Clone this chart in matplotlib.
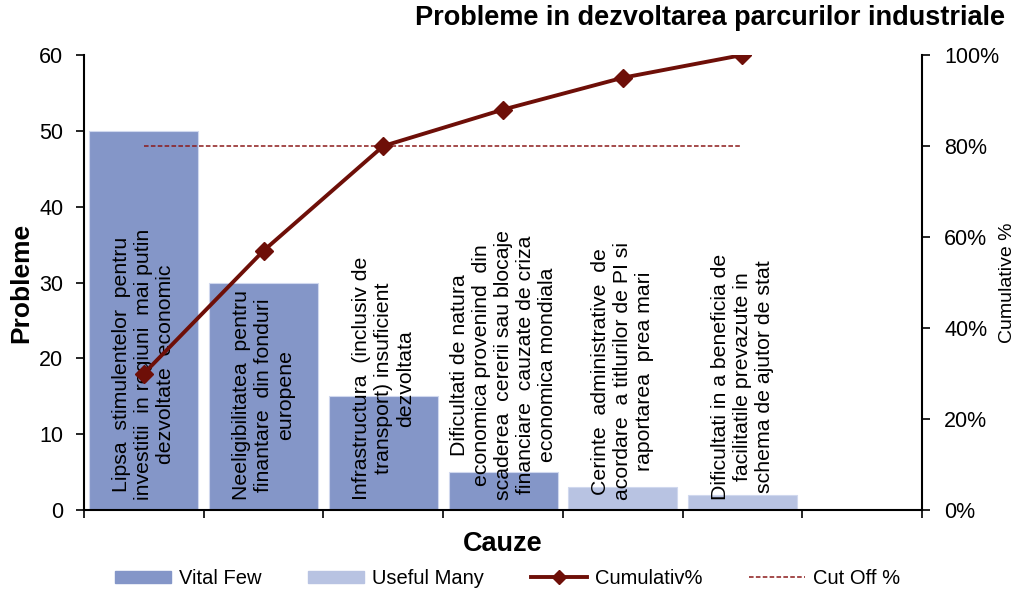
import numpy as np
import matplotlib
matplotlib.use('Agg')
import matplotlib.pyplot as plt
from matplotlib.patches import Patch
from matplotlib.lines import Line2D

plt.rcParams['font.family'] = ['Liberation Sans', 'DejaVu Sans']

# %% Date

cauze = ['Lipsa  stimulentelor  pentru\ninvestitii  in regiuni  mai putin\ndezvoltate  economic',
         'Neeligibilitatea  pentru\nfinantare  din fonduri\neuropene',
         'Infrastructura  (inclusiv de\ntransport) insuficient\ndezvoltata',
         'Dificultati de natura\neconomica provenind  din\nscaderea  cererii sau blocaje\nfinanciare  cauzate de criza\neconomica mondiala',
         'Cerinte  administrative  de\nacordare  a titlurilor de PI si\nraportarea  prea mari',
         'Dificultati in a beneficia de\nfacilitatile prevazute in\nschema de ajutor de stat']
probleme = [50, 30, 15, 5, 3, 2]
vital_few = [True, True, True, True, False, False]
cumulativ = [0.30, 0.57, 0.80, 0.88, 0.95, 1.00]
cut_off = 0.80

col_vital = '#8496c8'
col_useful = '#b8c3e2'
col_line = '#6e0f08'
col_cut = '#8b1a1a'

# %% Figura

fig = plt.figure(figsize=(10.15, 5.92), dpi=100)
ax = fig.add_axes([0.0828, 0.1385, 0.8256, 0.7686])

x = np.arange(len(probleme))
colors = [col_vital if v else col_useful for v in vital_few]
ax.bar(x, probleme, width=0.91, color=colors, edgecolor='#d0d8ee', linewidth=0.8, zorder=1)

for xi, txt in zip(x, cauze):
    ax.text(xi, 1.3, txt, rotation=90, ha='center', va='bottom', multialignment='center',
            fontsize=15.3, linespacing=1.2, zorder=3)

ax.set_xlim(-0.5, 6.5)
ax.set_ylim(0, 60)
ax.set_xticks(np.arange(-0.5, 7.0, 1.0))
ax.set_xticklabels([])
ax.set_yticks(np.arange(0, 61, 10))
ax.tick_params(axis='both', labelsize=15.5, length=6, width=1.2, pad=9)
ax.spines['top'].set_visible(False)
ax.spines['right'].set_visible(False)
for s in ['left', 'bottom']:
    ax.spines[s].set_linewidth(1.5)
ax.set_ylabel('Probleme', fontsize=19, fontweight='bold', labelpad=4)
ax.set_xlabel('Cauze', fontsize=19.5, fontweight='bold', labelpad=0)

ax2 = ax.twinx()
ax2.plot(x, cumulativ, color=col_line, linewidth=2.8, marker='D', markersize=9, zorder=4)
ax2.plot([x[0], x[-1]], [cut_off, cut_off], color=col_cut, linewidth=1.1, linestyle=(0, (3, 1.5)), zorder=2)
ax2.set_ylim(0, 1)
ax2.set_yticks(np.arange(0, 1.01, 0.2))
ax2.set_yticklabels([f'{int(round(v*100))}%' for v in np.arange(0, 1.01, 0.2)])
ax2.tick_params(axis='y', labelsize=15.5, length=6, width=1.2, pad=10)
ax2.spines['top'].set_visible(False)
ax2.spines['left'].set_visible(False)
ax2.spines['bottom'].set_visible(False)
ax2.spines['right'].set_linewidth(1.5)
ax2.set_ylabel('Cumulative %', fontsize=14, labelpad=0)

fig.text(0.99, 0.97, 'Probleme in dezvoltarea parcurilor industriale', ha='right', va='center',
         fontsize=19.5, fontweight='bold')

handles = [Patch(color=col_vital, label='Vital Few'),
           Patch(color=col_useful, label='Useful Many'),
           Line2D([], [], color=col_line, linewidth=2.8, marker='D', markersize=7, label='Cumulativ%'),
           Line2D([], [], color=col_cut, linewidth=1.1, linestyle=(0, (3, 1.5)), label='Cut Off %')]
fig.legend(handles=handles, loc='center', bbox_to_anchor=(0.5, 0.023), ncol=4, frameon=False,
           fontsize=14.5, handlelength=2.8, handleheight=0.55, columnspacing=2.3, handletextpad=0.4)

fig.savefig('out.png', dpi=100)
